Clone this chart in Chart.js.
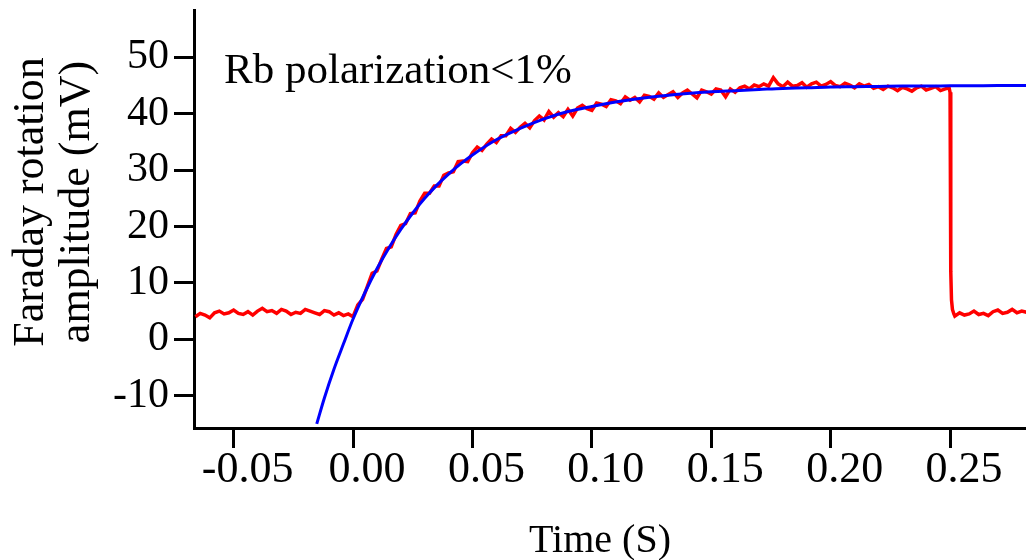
<!DOCTYPE html>
<html>
<head>
<meta charset="utf-8">
<script src="https://cdn.jsdelivr.net/npm/chart.js@4.4.1/dist/chart.umd.min.js"></script>
<style>
html,body{margin:0;padding:0;background:#fff;}
#wrap{width:1026px;height:560px;}
</style>
</head>
<body>
<div id="wrap"><canvas id="c" width="1026" height="560"></canvas></div>
<script>
// ---- data ----
const redT = [-0.066,-0.064,-0.062,-0.060,-0.058,-0.056,-0.054,-0.052,-0.050,-0.048,-0.046,-0.044,-0.042,-0.040,-0.038,-0.036,-0.034,-0.032,-0.030,-0.028,-0.026,-0.024,-0.022,-0.020,-0.018,-0.016,-0.014,-0.012,-0.010,-0.008,-0.006,-0.004,-0.002,0.000,
0.002,0.004,0.006,0.008,0.010,0.012,0.014,0.016,0.018,0.020,0.022,0.024,0.026,0.028,0.030,0.032,0.034,0.036,0.038,0.040,0.042,0.044,0.046,0.048,0.050,0.052,0.054,0.056,0.058,0.060,0.062,0.064,0.066,0.068,0.070,0.072,0.074,0.076,0.078,0.080,
0.082,0.084,0.086,0.088,0.090,0.092,0.094,0.096,0.098,0.100,0.102,0.104,0.106,0.108,0.110,0.112,0.114,0.116,0.118,0.120,0.122,0.124,0.126,0.128,0.130,0.132,0.134,0.136,0.138,0.140,0.142,0.144,0.146,0.148,0.150,0.152,0.154,0.156,0.158,0.160,
0.162,0.164,0.166,0.168,0.170,0.172,0.174,0.176,0.178,0.180,0.182,0.184,0.186,0.188,0.190,0.192,0.194,0.196,0.198,0.200,0.202,0.204,0.206,0.208,0.210,0.212,0.214,0.216,0.218,0.220,0.222,0.224,0.226,0.228,0.230,0.232,0.234,0.236,0.238,0.240,0.242,0.244,0.246,0.248,
0.2496,0.2500,0.2503,0.2506,0.2510,0.2516,0.252,0.254,0.256,0.258,0.260,0.262,0.264,0.266,0.268,0.270,0.272,0.274,0.276,0.278,0.280,0.282];
const redV = [4.0,4.6,4.3,3.8,4.7,5.0,4.5,4.7,5.2,4.6,4.4,4.9,4.3,5.0,5.5,4.9,5.1,4.6,5.3,5.0,4.4,4.8,4.6,5.3,5.0,4.7,4.4,5.1,4.9,4.3,4.7,4.2,4.5,4.0,
6.1,7.1,9.4,11.7,12.1,14.2,16.1,16.4,18.6,20.2,20.5,22.3,22.4,24.5,25.9,25.9,27.2,27.2,29.1,29.5,29.7,31.5,31.6,31.5,33.1,34.1,33.5,34.6,35.5,34.9,36.1,36.1,37.4,36.7,37.6,38.3,37.5,38.8,39.6,38.9,
40.4,39.4,40.2,39.5,40.8,39.6,41.0,41.5,40.9,40.6,41.9,41.7,41.3,42.5,42.3,41.8,43.0,42.4,42.9,42.1,43.3,43.1,42.6,43.7,42.9,43.4,43.9,42.9,43.7,44.2,43.5,42.8,44.2,43.9,43.5,44.4,44.2,43.0,44.4,43.8,
44.6,44.9,44.4,45.1,44.8,45.3,44.9,46.4,45.3,44.8,45.6,44.9,45.0,45.5,44.7,45.3,45.6,44.9,45.2,45.7,45.0,44.8,45.4,45.1,44.6,45.3,44.9,45.2,44.5,44.8,44.3,44.9,44.6,44.1,44.7,44.4,44.0,44.6,44.9,44.2,44.5,44.8,44.1,44.4,
44.6,43.8,12.0,7.0,5.3,4.5,4.1,4.7,4.3,4.5,5.0,4.4,4.6,4.2,4.9,5.2,4.6,4.8,5.3,4.7,5.0,4.8];

const fitT = [-0.0152,-0.012,-0.008,-0.004,0.000,0.005,0.010,0.015,0.020,0.025,0.030,0.035,0.040,0.045,0.050,0.060,0.070,0.080,0.090,0.100,0.110,0.120,0.130,0.140,0.150,0.160,0.170,0.180,0.190,0.200,0.210,0.220,0.230,0.240,0.250,0.260,0.270,0.282];
const fitV = [-15.0,-10.4,-5.3,-0.8,3.6,8.3,12.5,16.2,19.5,22.4,25.0,27.3,29.3,31.1,32.7,35.4,37.4,39.1,40.4,41.3,42.1,42.7,43.2,43.6,43.9,44.1,44.3,44.5,44.6,44.75,44.8,44.85,44.9,44.9,44.95,44.97,45.0,45.0];

const xTicks = [-0.05,0.00,0.05,0.10,0.15,0.20,0.25];
const xTickLabels = ['-0.05','0.00','0.05','0.10','0.15','0.20','0.25'];
const yTicks = [-10,0,10,20,30,40,50];
const yTickLabels = ['-10','0','10','20','30','40','50'];

const xTitle = 'Time (S)';
const yTitleLines = ['Faraday rotation','amplitude (mV)'];
const noteText = 'Rb polarization<1%';

// ---- chart ----
const SERIF = "'Liberation Serif','Times New Roman',serif";

const textPlugin = {
  id: 'texts',
  afterDraw(chart) {
    const ctx = chart.ctx;
    ctx.save();
    ctx.fillStyle = '#000';
    ctx.textAlign = 'center';
    ctx.textBaseline = 'alphabetic';
    ctx.font = '40px ' + SERIF;
    ctx.fillText(xTitle, 600, 552);
    ctx.font = '44px ' + SERIF;
    const bx = [43, 89];
    yTitleLines.forEach((line, i) => {
      ctx.save();
      ctx.translate(bx[i], 202);
      ctx.rotate(-Math.PI / 2);
      ctx.fillText(line, 0, 0);
      ctx.restore();
    });
    ctx.textAlign = 'left';
    ctx.font = '43px ' + SERIF;
    ctx.fillText(noteText, 224, 83);
    ctx.restore();
  }
};

new Chart(document.getElementById('c'), {
  type: 'line',
  data: {
    datasets: [
      {
        label: 'fit',
        data: fitT.map((t, i) => ({x: t, y: fitV[i]})),
        borderColor: 'rgb(0,0,255)',
        borderWidth: 3,
        pointRadius: 0,
        cubicInterpolationMode: 'monotone',
        order: 0
      },
      {
        label: 'data',
        data: redT.map((t, i) => ({x: t, y: redV[i]})),
        borderColor: 'rgb(255,0,0)',
        borderWidth: 3.5,
        pointRadius: 0,
        tension: 0,
        order: 1
      }
    ]
  },
  options: {
    responsive: false,
    animation: false,
    devicePixelRatio: 1,
    layout: {padding: {top: 10, left: 0, right: 0, bottom: 0}},
    plugins: {legend: {display: false}, tooltip: {enabled: false}},
    scales: {
      x: {
        type: 'linear',
        min: -0.0666,
        max: 0.2818,
        afterBuildTicks: s => { s.ticks = xTicks.map(v => ({value: v})); },
        afterFit: s => { s.height = 132; s.paddingLeft = 0; s.paddingRight = 0; },
        border: {display: true, color: '#000', width: 3},
        grid: {drawOnChartArea: false, drawTicks: true, tickLength: 20, tickWidth: 3, tickColor: '#000', color: '#000'},
        ticks: {
          autoSkip: false, maxRotation: 0, padding: 0, labelOffset: 14, color: '#000',
          font: {family: SERIF, size: 44, lineHeight: 1},
          callback: v => { const i = xTicks.findIndex(t => Math.abs(t - v) < 1e-9); return i >= 0 ? xTickLabels[i] : ''; }
        }
      },
      y: {
        type: 'linear',
        min: -15.73,
        max: 58.4,
        afterBuildTicks: s => { s.ticks = yTicks.map(v => ({value: v})); },
        afterFit: s => { s.width = 194; s.paddingTop = 0; s.paddingBottom = 0; },
        border: {display: true, color: '#000', width: 3},
        grid: {drawOnChartArea: false, drawTicks: true, tickLength: 20, tickWidth: 3, tickColor: '#000', color: '#000'},
        ticks: {
          autoSkip: false, padding: 5, color: '#000',
          font: {family: SERIF, size: 42, lineHeight: 1},
          callback: v => { const i = yTicks.findIndex(t => Math.abs(t - v) < 1e-9); return i >= 0 ? yTickLabels[i] : ''; }
        }
      }
    }
  },
  plugins: [textPlugin]
});
</script>
</body>
</html>
